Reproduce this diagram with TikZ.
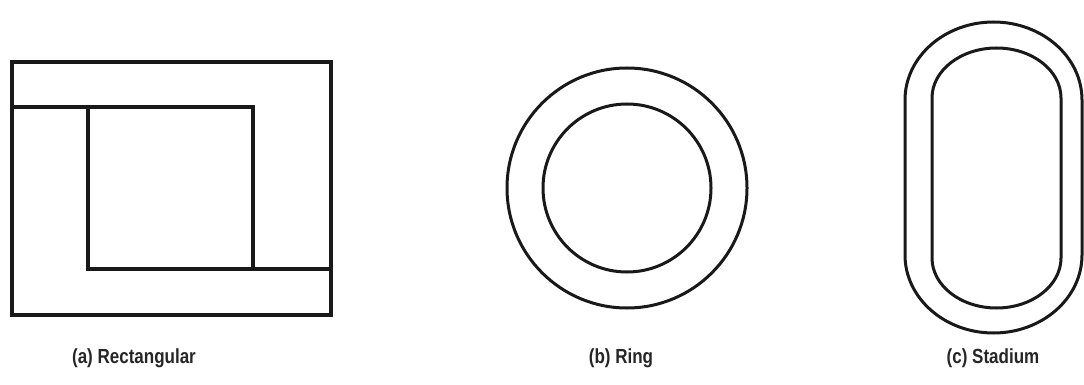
\documentclass[tikz,border=0pt]{standalone}
\usepackage{fontspec}
\setmainfont{Liberation Sans}
\begin{document}
\begin{tikzpicture}[x=1pt,y=-1pt,
  shape line/.style={line width=3.3pt, draw=black!90, line join=miter},
  caption/.style={font=\fontsize{17}{20}\selectfont\bfseries, text=black!85, inner sep=0pt, yscale=1.2}]
\useasboundingbox (0,0) rectangle (1084,385);
% (a) Rectangular
\coordinate (ra1) at (12,62);
\coordinate (ra2) at (331,315);
\draw[shape line] (ra1) rectangle (ra2);
\coordinate (m1) at (12,107);
\coordinate (m2) at (253,107);
\coordinate (m3) at (253,269);
\coordinate (m4) at (88,269);
\coordinate (m5) at (88,107);
\coordinate (m6) at (331,269);
\draw[shape line] (m1) -- (m2) -- (m3);
\draw[shape line] (m5) -- (m4) -- (m6);
% (b) Ring
\coordinate (rc) at (627,188);
\draw[shape line, line width=3pt] (rc) circle[radius=120];
\draw[shape line, line width=3pt] (rc) circle[radius=84];
% (c) Stadium
\draw[shape line, line width=3pt] (905,100) -- (905,255)
  arc[start angle=180, end angle=0, x radius=88.5, y radius=78]
  -- (1082,100)
  arc[start angle=0, end angle=-180, x radius=88.5, y radius=78] -- cycle;
\draw[shape line, line width=3pt] (932,98) -- (932,258)
  arc[start angle=180, end angle=0, x radius=64.5, y radius=50]
  -- (1061,98)
  arc[start angle=0, end angle=-180, x radius=64.5, y radius=50] -- cycle;
% captions
\node[caption] (ca) at (134,358) {(a) Rectangular};
\node[caption] (cb) at (621,358) {(b) Ring};
\node[caption] (cc) at (993,358) {(c) Stadium};
\end{tikzpicture}
\end{document}
